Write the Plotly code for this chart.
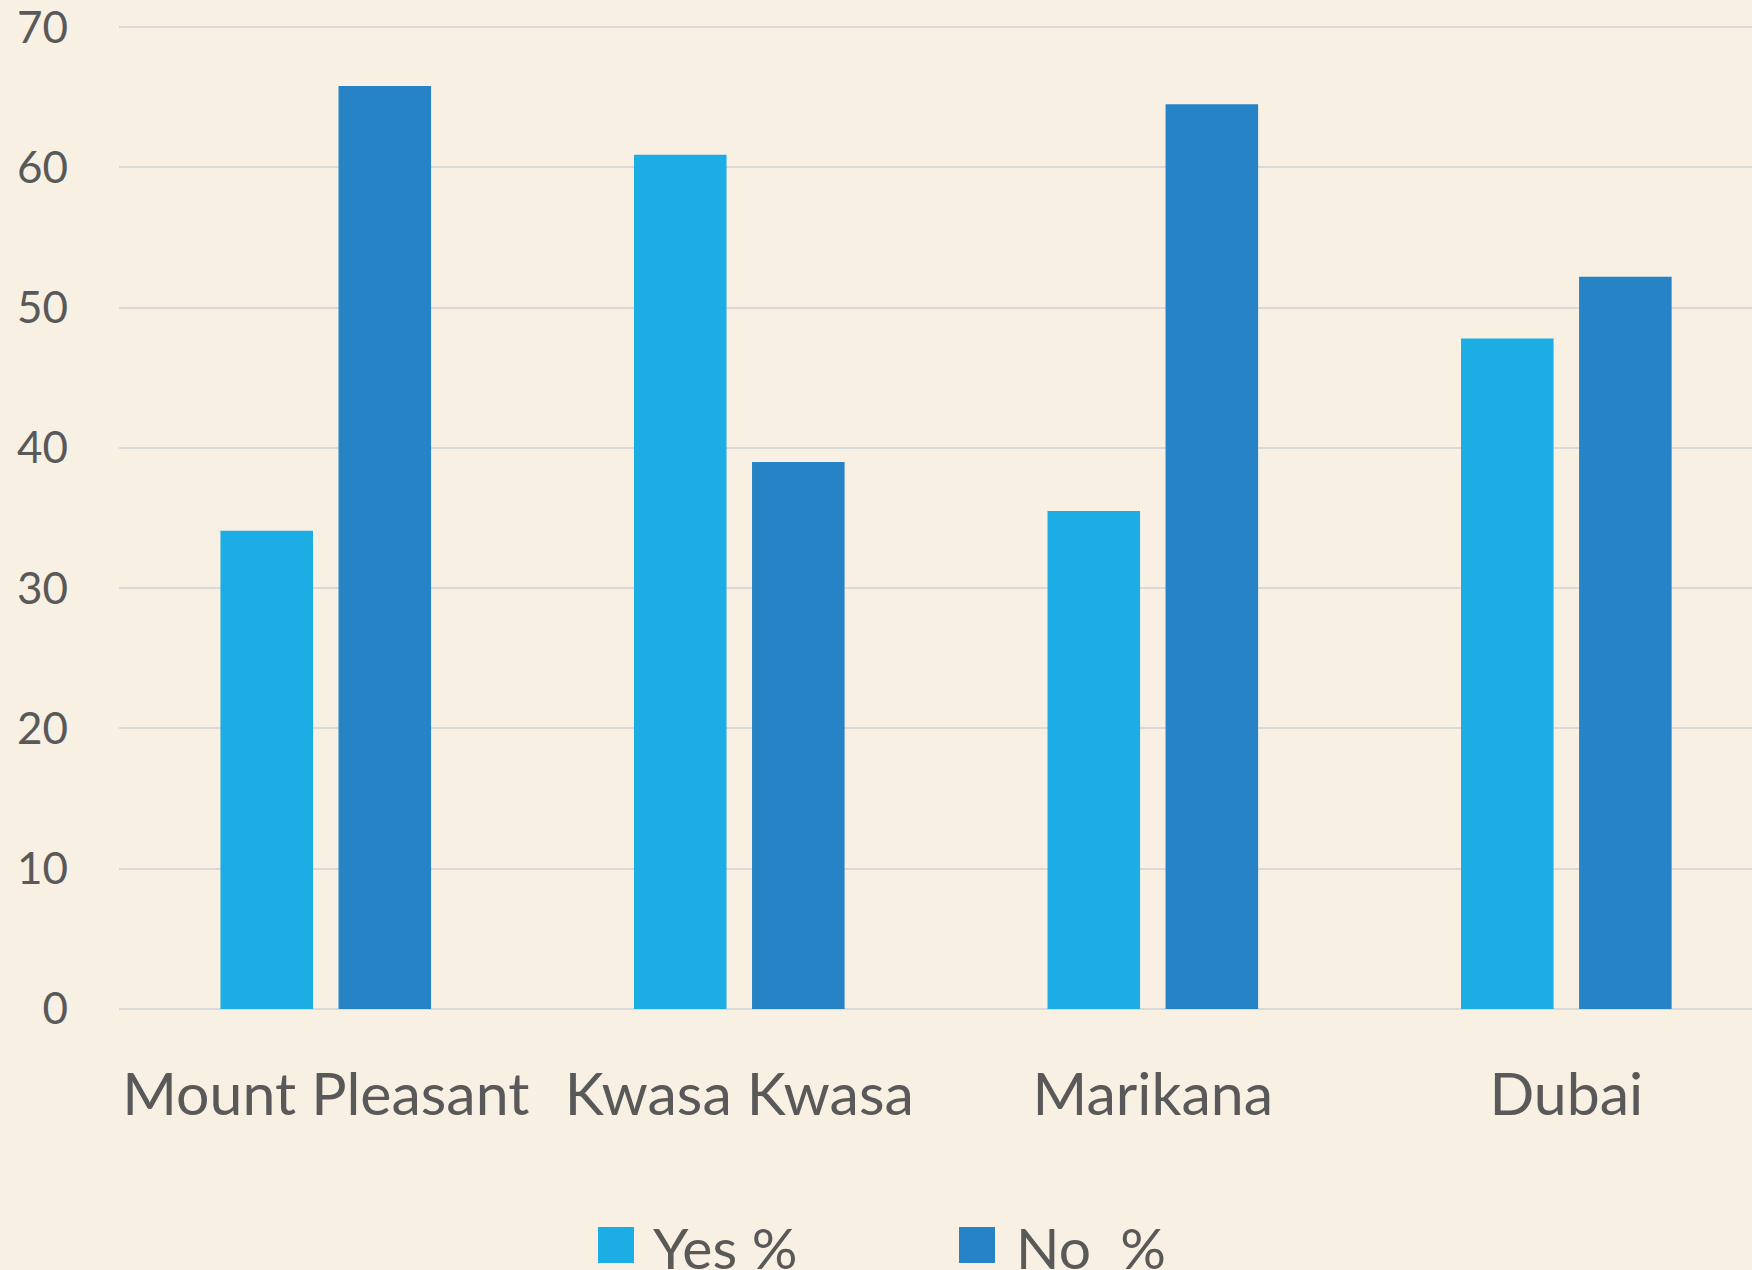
import plotly.graph_objects as go

categories = ["Mount Pleasant", "Kwasa Kwasa", "Marikana", "Dubai"]
yes_pct = [34.1, 60.9, 35.5, 47.8]
no_pct = [65.8, 39.0, 64.5, 52.2]
series_names = ["Yes %", "No\u00a0 %"]
series_colors = ["#1CADE4", "#2683C6"]
y_ticks = [0, 10, 20, 30, 40, 50, 60, 70]

W, H = 1752, 1270
L, R, T, B = 119, 0, 25, 261
FONT = "Lato"
TXT = "#595959"
BG = "#F8F1E3"

fig = go.Figure()
fig.add_trace(go.Bar(x=categories, y=yes_pct, name=series_names[0],
                     marker=dict(color=series_colors[0], line=dict(width=0)),
                     showlegend=False))
fig.add_trace(go.Bar(x=categories, y=no_pct, name=series_names[1],
                     marker=dict(color=series_colors[1], line=dict(width=0)),
                     showlegend=False))

pw = W - L - R
ph = H - T - B


def px(X):
    return (X - L) / pw


def py(Y):
    return (H - B - Y) / ph


# manual legend (large swatches like the original)
shapes = []
annotations = []
legend_items = [(598, 651), (959, 1014)]
for (sx, tx), name, col in zip(legend_items, series_names, series_colors):
    shapes.append(dict(type="rect", xref="paper", yref="paper",
                       x0=px(sx), x1=px(sx + 36), y0=py(1263), y1=py(1227),
                       fillcolor=col, line=dict(width=0)))
    annotations.append(dict(xref="paper", yref="paper", x=px(tx), y=py(1247),
                            xanchor="left", yanchor="middle", text=name,
                            showarrow=False,
                            font=dict(family=FONT, size=57, color=TXT)))

fig.update_layout(
    width=W, height=H,
    margin=dict(l=L, r=R, t=T, b=B, pad=0),
    paper_bgcolor=BG, plot_bgcolor=BG,
    barmode="group", bargap=0.429, bargroupgap=0.216,
    font=dict(family=FONT, color=TXT),
    shapes=shapes, annotations=annotations,
    xaxis=dict(range=[-0.5, 3.449], showgrid=False, showline=False,
               zeroline=False, ticks="",
               tickfont=dict(family=FONT, size=59, color=TXT),
               ticklabelstandoff=46, fixedrange=True),
    yaxis=dict(range=[0, 70.15], tickvals=y_ticks,
               ticklabeloverflow="allow",
               showgrid=True,
               gridcolor="#D9D9D9", gridwidth=2, zeroline=True,
               zerolinecolor="#D9D9D9", zerolinewidth=2, showline=False,
               ticks="", tickfont=dict(family=FONT, size=44, color=TXT),
               ticklabelstandoff=50, fixedrange=True),
)

fig.write_html("out.html",
               config={"displayModeBar": False},
               post_script="document.body.style.margin='0px';"
                           "document.body.style.background='" + BG + "';")
